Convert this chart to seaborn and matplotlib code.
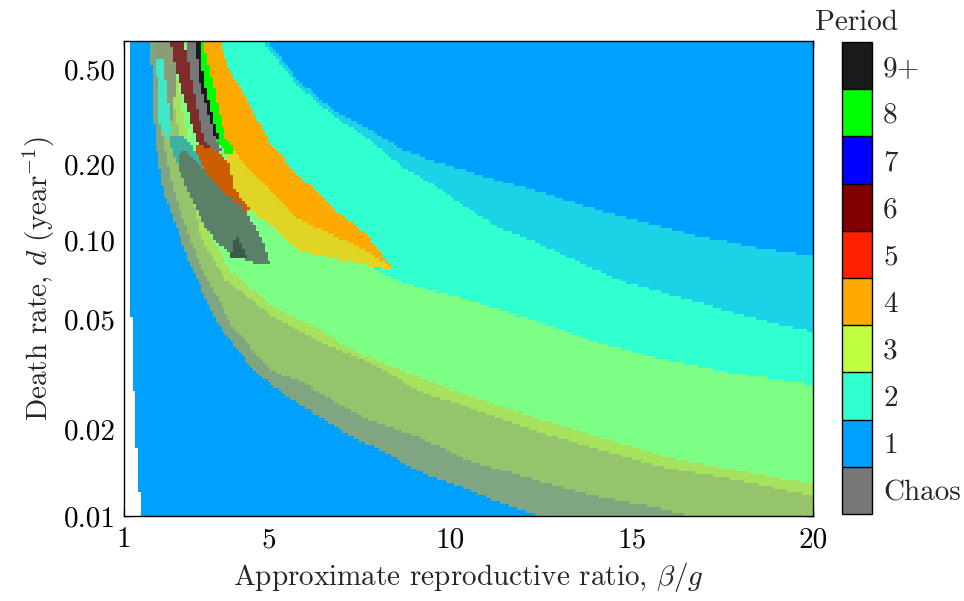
import numpy as np
import pandas as pd
import matplotlib
matplotlib.use("Agg")
import matplotlib.pyplot as plt
from matplotlib.colors import ListedColormap, BoundaryNorm
from matplotlib.path import Path
from matplotlib.ticker import NullLocator
import matplotlib.colorbar as mcolorbar
import seaborn as sns

# ---------------------------------------------------------------- axes
ratio_min, ratio_max = 1.0, 20.0
death_min, death_max = 0.01, 0.66
DEATH_EXP = -0.06          # vertical axis is uniform in d**DEATH_EXP

x_ticks = [1, 5, 10, 15, 20]
x_tick_labels = ["1", "5", "10", "15", "20"]
y_ticks = [0.50, 0.20, 0.10, 0.05, 0.02, 0.01]
y_tick_labels = ["0.50", "0.20", "0.10", "0.05", "0.02", "0.01"]

# ---------------------------------------------------------------- legend
period_labels = ["Chaos", "1", "2", "3", "4", "5", "6", "7", "8", "9+"]
period_colors = ["#777777", "#00A0FF", "#30FFD0", "#C0FF40", "#FFAA00",
                 "#FF2000", "#800000", "#0000FF", "#00FF00", "#1A1A1A"]

# ---------------------------------------------------------------- region colours
# (where two attractors coexist the two period colours are mixed)
region_colors = [
    "#00A0FF",  # 0  period 1
    "#1BD2E6",  # 1  periods 1 + 2
    "#30FFD0",  # 2  period 2
    "#7CFF84",  # 3  periods 2 + 3
    "#A6E25E",  # 4  period 3 mix
    "#96C46C",  # 5  period 3 + chaos
    "#7FA680",  # 6  period 1 + chaos
    "#FFAA00",  # 7  period 4
    "#E0D424",  # 8  periods 3 + 4
    "#00FF00",  # 9  period 8
    "#777777",  # 10 chaos
    "#7E2C2C",  # 11 period 6
    "#CC5C00",  # 12 periods 4 + 5
    "#5B8068",  # 13 chaos + period 2
    "#40B0A0",  # 14 chaos + period 2 (upper)
    "#3E5A4A",  # 15 chaos core
    "#40E8C8",  # 16 period 2 strip
    "#FFFFFF",  # 17 no persistence
    "#1A1A1A",  # 18 period 9+
    "#8A9C78",  # 19 chaos + period 3
]

# ---------------------------------------------------------------- band boundaries (ratio, death rate)
b1_ratio = [4.97, 5.85, 6.76, 7.70, 8.61, 9.52, 10.46, 11.37, 12.28, 13.02, 14.87, 16.69, 18.54, 20.0]
b1_death = [0.660, 0.440, 0.335, 0.282, 0.2335, 0.2066, 0.1883, 0.1715, 0.1578, 0.1453, 0.1222, 0.1048, 0.0933, 0.0868]

b2_ratio = [4.81, 5.85, 6.76, 7.70, 8.61, 9.52, 10.46, 11.37, 12.28, 13.02, 13.93, 14.87, 16.89, 17.80, 18.73, 20.0]
b2_death = [0.660, 0.4151, 0.3167, 0.2567, 0.1992, 0.1654, 0.1339, 0.1117, 0.0993, 0.0893, 0.0782, 0.0685, 0.0576, 0.0528, 0.0489, 0.0449]

b3_ratio = [3.23, 4.47, 5.85, 7.23, 8.61, 10.46, 12.28, 14.13, 15.98, 17.80, 20.0]
b3_death = [0.660, 0.2517, 0.1257, 0.0877, 0.0691, 0.0590, 0.0497, 0.0409, 0.0354, 0.0317, 0.0287]

b4_ratio = [2.27, 2.82, 3.23, 3.92, 5.03, 6.41, 7.32, 9.16, 10.46, 12.28, 14.13, 15.98, 17.80, 20.0]
b4_death = [0.660, 0.229, 0.1148, 0.0768, 0.0566, 0.0456, 0.0385, 0.0304, 0.0264, 0.0220, 0.0187, 0.0160, 0.0144, 0.0128]

b5_ratio = [1.99, 2.68, 3.10, 3.79, 5.03, 6.60, 7.78, 9.16, 10.46, 12.28, 14.13, 15.98, 17.80, 20.0]
b5_death = [0.660, 0.2085, 0.1049, 0.0703, 0.0519, 0.0402, 0.0348, 0.0271, 0.0239, 0.0198, 0.0169, 0.0146, 0.0133, 0.0117]

b6_ratio = [1.85, 1.99, 2.35, 3.01, 3.92, 5.03, 5.94, 6.87, 7.78, 9.16, 10.46, 12.28, 14.13, 15.98, 16.89]
b6_death = [0.660, 0.3044, 0.1578, 0.0861, 0.0485, 0.0325, 0.0292, 0.0247, 0.0215, 0.0187, 0.0156, 0.0133, 0.0116, 0.0105, 0.0097]

b7_ratio = [1.72, 1.85, 2.08, 2.74, 3.56, 4.56, 5.50, 6.41, 7.32, 8.25, 9.16, 10.46, 11.37, 12.28, 12.61]
b7_death = [0.660, 0.2567, 0.1578, 0.0861, 0.0485, 0.0325, 0.0260, 0.0220, 0.0187, 0.0165, 0.0141, 0.0123, 0.0111, 0.0102, 0.0097]

# ---------------------------------------------------------------- closed regions (ratio, death rate)
mixed_ratio = [1.85, 2.30, 2.45, 2.30, 2.05, 1.92]
mixed_death = [0.660, 0.660, 0.450, 0.300, 0.280, 0.400]

orange_ratio = [3.65, 3.92, 4.47, 4.97, 5.58, 5.85, 6.76, 7.70, 8.34, 8.42, 8.34, 7.70, 6.76, 5.85, 4.94, 4.34, 3.79, 3.56, 3.15]
orange_death = [0.660, 0.490, 0.352, 0.2517, 0.1973, 0.1798, 0.1339, 0.1049, 0.0803, 0.0782, 0.0796, 0.0908, 0.1049, 0.1200, 0.1608, 0.1992, 0.2567, 0.3690, 0.660]

yellow_ratio = [3.79, 4.34, 4.94, 5.85, 6.76, 7.70, 8.34, 8.42, 7.70, 6.76, 5.85, 5.03, 4.47, 3.98, 3.87]
yellow_death = [0.2567, 0.1992, 0.1608, 0.1200, 0.1049, 0.0908, 0.0796, 0.0768, 0.0803, 0.0854, 0.0908, 0.1148, 0.1314, 0.1608, 0.2085]

green_ratio = [3.04, 3.18, 3.56, 3.79, 4.06, 3.87, 3.56, 3.37, 3.10]
green_death = [0.660, 0.660, 0.3690, 0.2567, 0.2290, 0.2167, 0.2517, 0.3044, 0.4485]

edge_ratio = [2.98, 3.10, 3.20, 3.50, 3.62, 3.52, 3.38, 3.07]
edge_death = [0.660, 0.660, 0.4485, 0.2900, 0.2517, 0.2517, 0.3044, 0.4485]

chaos_ratio = [2.74, 3.04, 3.10, 3.37, 3.56, 3.70, 3.48, 3.23, 2.96, 2.77]
chaos_death = [0.660, 0.660, 0.4485, 0.3044, 0.2517, 0.2290, 0.2249, 0.2517, 0.3690, 0.5462]

red_ratio = [2.27, 2.65, 2.77, 2.96, 3.23, 3.43, 3.26, 2.99, 2.68, 2.43]
red_death = [0.660, 0.660, 0.5462, 0.3690, 0.2517, 0.2290, 0.2249, 0.2517, 0.3690, 0.4950]

brown_ratio = [2.96, 3.43, 3.87, 4.06, 4.47, 4.34, 3.79, 3.23, 2.90]
brown_death = [0.2403, 0.2335, 0.2085, 0.1578, 0.1314, 0.1268, 0.1377, 0.1578, 0.1992]

teal_ratio = [2.21, 2.71, 3.04, 3.26, 3.10, 2.68, 2.41]
teal_death = [0.2642, 0.2567, 0.2185, 0.1865, 0.1652, 0.1730, 0.2085]

ellipse_ratio = [2.68, 3.23, 3.65, 4.20, 4.56, 4.81, 4.97, 5.03, 4.81, 4.56, 4.20, 3.92, 3.51, 3.18, 2.96, 2.74, 2.54, 2.49]
ellipse_death = [0.2290, 0.1899, 0.1578, 0.1377, 0.1169, 0.1002, 0.0861, 0.0817, 0.0810, 0.0823, 0.0854, 0.0891, 0.1002, 0.1169, 0.1377, 0.1578, 0.1899, 0.2188]

core_ratio = [3.92, 4.09, 4.39]
core_death = [0.0854, 0.1068, 0.0854]

strip_ratio = [1.88, 2.08, 2.32, 2.21, 1.99]
strip_death = [0.5462, 0.5462, 0.2767, 0.2517, 0.2905]

white_ratio = [1.0, 1.17, 1.17, 1.26, 1.36, 1.48, 1.0]
white_death = [0.660, 0.660, 0.0644, 0.0299, 0.0169, 0.0100, 0.0100]


def fwd(d):
    return np.asarray(d, dtype=float) ** DEATH_EXP


# ---------------------------------------------------------------- grid of parameter cells
nx, ny = 240, 160
x_cells = ratio_min + (np.arange(nx) + 0.5) / nx * (ratio_max - ratio_min)
t_top, t_bot = fwd(death_max), fwd(death_min)
t_cells = t_top + (np.arange(ny) + 0.5) / ny * (t_bot - t_top)
X, T = np.meshgrid(x_cells, t_cells)
pts = np.column_stack([X.ravel(), T.ravel()])


def below(cx, cd):
    tc = np.interp(X, cx, fwd(cd), left=-np.inf, right=np.inf)
    return T > tc


def inside(cx, cd):
    path = Path(np.column_stack([cx, fwd(cd)]))
    return path.contains_points(pts).reshape(X.shape)


code = np.zeros((ny, nx), dtype=int)
for k, (cx, cd) in enumerate([(b1_ratio, b1_death), (b2_ratio, b2_death),
                              (b3_ratio, b3_death), (b4_ratio, b4_death),
                              (b5_ratio, b5_death), (b6_ratio, b6_death)], start=1):
    code[below(cx, cd)] = k
code[below(b7_ratio, b7_death)] = 0

for cx, cd, k in [(mixed_ratio, mixed_death, 19),
                  (orange_ratio, orange_death, 7), (yellow_ratio, yellow_death, 8),
                  (green_ratio, green_death, 9), (chaos_ratio, chaos_death, 10),
                  (edge_ratio, edge_death, 18),
                  (red_ratio, red_death, 11), (brown_ratio, brown_death, 12),
                  (strip_ratio, strip_death, 16), (teal_ratio, teal_death, 14),
                  (ellipse_ratio, ellipse_death, 13), (core_ratio, core_death, 15),
                  (white_ratio, white_death, 17)]:
    code[inside(cx, cd)] = k

grid = pd.DataFrame(code, index=np.round(t_cells ** (1 / DEATH_EXP), 4),
                    columns=np.round(x_cells, 3))

# ---------------------------------------------------------------- style
sns.set_theme(style="ticks")
plt.rcParams["font.family"] = "serif"
plt.rcParams["font.serif"] = ["cmr10", "DejaVu Serif"]
plt.rcParams["mathtext.fontset"] = "cm"
plt.rcParams["axes.formatter.use_mathtext"] = True
FS = 21

fig = plt.figure(figsize=(9.64, 6.01), dpi=100)
ax = fig.add_axes([0.1286, 0.1414, 0.7148, 0.7904])

region_cmap = ListedColormap(region_colors)
sns.heatmap(grid, ax=ax, cmap=region_cmap, vmin=-0.5, vmax=len(region_colors) - 0.5,
            cbar=False, xticklabels=False, yticklabels=False, rasterized=True)

# axis ticks in parameter units
ax.set_xticks([(v - ratio_min) / (ratio_max - ratio_min) * nx for v in x_ticks])
ax.set_xticklabels(x_tick_labels)
ax.set_yticks([(fwd(v) - t_top) / (t_bot - t_top) * ny for v in y_ticks])
ax.set_yticklabels(y_tick_labels, rotation=0)
ax.set_xlim(0, nx)
ax.set_ylim(ny, 0)
for s in ax.spines.values():
    s.set_visible(True)
    s.set_color("black")
    s.set_linewidth(1.0)
ax.tick_params(direction="in", top=True, right=True, length=5, width=1,
               labelsize=FS, pad=6, colors="black")
ax.tick_params(axis="x", pad=8)
ax.set_xlabel(r"Approximate reproductive ratio, $\beta/g$", fontsize=FS, labelpad=5)
ax.set_ylabel(r"Death rate, $d$ (year$^{-1}$)", fontsize=FS, labelpad=5)

# ---------------------------------------------------------------- period colour bar
cax = fig.add_axes([0.8734, 0.1448, 0.0311, 0.7853])
bounds = np.arange(len(period_colors) + 1)
cb = mcolorbar.ColorbarBase(cax, cmap=ListedColormap(period_colors),
                            norm=BoundaryNorm(bounds, len(period_colors)),
                            boundaries=bounds, ticks=bounds[:-1] + 0.5,
                            drawedges=True)
cb.set_ticklabels(period_labels)
cb.dividers.set_color("black")
cb.dividers.set_linewidth(1.0)
cb.outline.set_edgecolor("black")
cb.outline.set_linewidth(1.0)
cax.yaxis.set_minor_locator(NullLocator())
cax.tick_params(which="both", length=0, labelsize=FS, pad=8)
fig.text(0.889, 0.962, "Period", fontsize=FS, ha="center", va="center")

fig.savefig("out.png", dpi=100)
